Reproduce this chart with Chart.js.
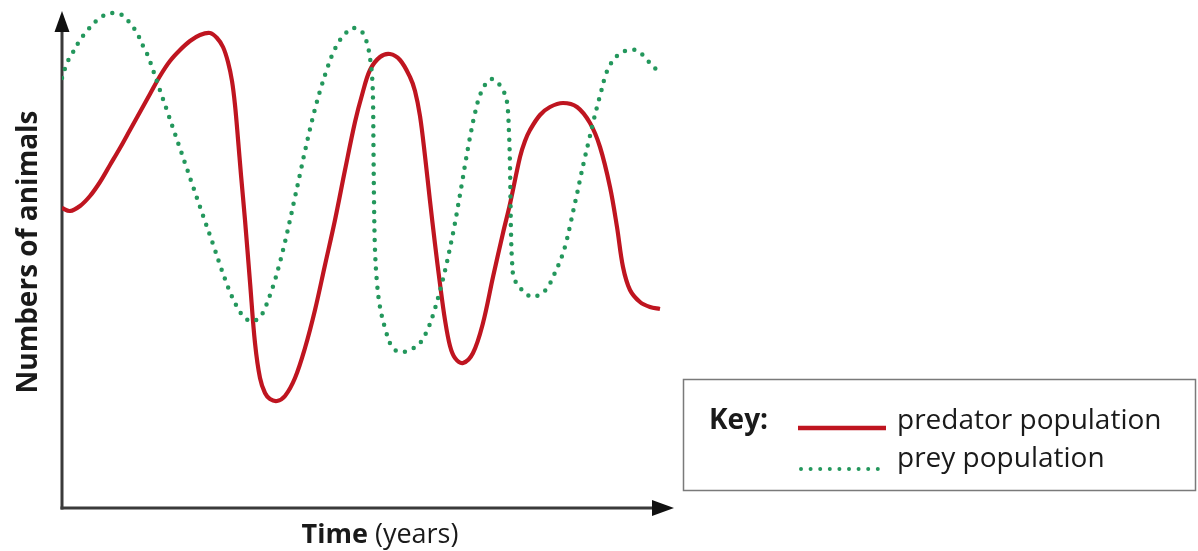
<!DOCTYPE html>
<html><head><meta charset="utf-8">
<script src="https://cdn.jsdelivr.net/npm/chart.js@4.4.1/dist/chart.umd.min.js"></script>
<style>html,body{margin:0;padding:0;background:#fff;}#wrap{width:1198px;height:551px;position:relative;}</style>
</head><body><div id="wrap"><canvas id="c" width="1198" height="551"></canvas></div>
<script>
// Time (arbitrary years 0..60) and numbers of animals (relative 0..100)
const predatorTime  = [0, 0.8, 1.8, 2.8, 3.8, 4.8, 5.8, 6.8, 7.8, 8.8, 9.8, 10.8, 11.8, 12.8, 13.8, 14.8, 15.5, 16.1, 16.6, 17.0, 17.3, 17.6, 17.9, 18.3, 18.8, 19.3, 19.8, 20.3, 20.8, 21.5, 22.3, 23.3, 24.3, 25.3, 26.3, 27.3, 28.3, 29.3, 30.0, 30.8, 31.8, 32.8, 33.8, 34.8, 35.3, 35.8, 36.3, 36.8, 37.3, 37.8, 38.3, 38.8, 39.3, 40.1, 41.1, 42.1, 43.1, 44.1, 44.8, 45.8, 46.3, 46.8, 47.8, 48.8, 50.1, 51.5, 52.8, 53.8, 54.8, 55.5, 56.1, 56.8, 57.8, 58.8, 59.8];
const predatorCount = [60, 59.4, 60.4, 62.4, 65.2, 68.6, 72, 75.6, 79.2, 82.8, 86.4, 89.4, 91.6, 93.4, 94.6, 95, 94, 92.2, 89.2, 85.4, 80.6, 73.8, 66.6, 57.6, 45.2, 33, 26, 23, 21.8, 21.4, 22.4, 26, 32, 39.6, 48.6, 57.6, 67.6, 77.2, 82.6, 87.6, 90.2, 90.8, 89.6, 86.2, 83.4, 78.4, 70.4, 61.4, 52.8, 44.8, 37.6, 32.4, 30, 29, 31, 37, 46.2, 55, 60.8, 70.2, 73.4, 75.6, 78.6, 80.2, 81, 80.2, 77, 72.2, 64.2, 56.2, 48.2, 43.6, 41.2, 40.2, 39.8];
const preyTime  = [0, 0.5, 1.0, 1.8, 2.5, 3.3, 4.1, 5.0, 6.0, 6.8, 7.5, 8.1, 8.6, 9.1, 9.6, 10.1, 10.6, 11.3, 11.8, 12.4, 13.1, 13.6, 14.1, 14.8, 15.3, 15.8, 16.3, 16.8, 17.3, 17.8, 18.3, 19.0, 19.8, 20.3, 20.8, 21.3, 21.8, 22.3, 22.8, 23.3, 23.8, 24.3, 24.8, 25.3, 25.8, 26.5, 27.1, 27.8, 28.5, 29.1, 30.0, 30.5, 30.8, 31.0, 31.1, 31.15, 31.2, 31.3, 31.5, 31.8, 32.3, 33.0, 33.8, 34.8, 35.8, 36.5, 37.1, 37.6, 38.1, 38.5, 38.9, 39.3, 39.6, 40.0, 40.3, 40.6, 40.9, 41.3, 41.8, 42.5, 43.0, 43.5, 44.1, 44.5, 44.7, 44.8, 44.85, 44.9, 45.0, 45.2, 46.0, 47.0, 48.0, 48.6, 49.1, 49.6, 50.0, 50.4, 50.8, 51.1, 51.5, 51.9, 52.3, 52.7, 53.1, 53.5, 53.9, 54.3, 54.8, 55.6, 56.6, 57.6, 58.5, 59.3, 59.7];
const preyCount = [86, 89, 90.8, 93.6, 95.4, 97.2, 98.4, 99, 98.6, 97, 95, 92.4, 90.4, 87.6, 84.7, 81.8, 78.9, 74.8, 71.9, 68.4, 64.3, 61.4, 58.5, 54.5, 51.6, 48.6, 45.8, 43.2, 41, 39.2, 38, 37.3, 38.2, 40, 42.6, 45.6, 49.2, 53.2, 57.6, 62.2, 66.8, 71.4, 75.8, 79.8, 83.4, 87.8, 91, 93.6, 95.2, 96, 95.2, 93, 90, 86.6, 81.6, 71.6, 61.6, 51.6, 45, 40.2, 36, 32.2, 31.2, 31.6, 33, 35.4, 38.6, 42, 45.8, 49.2, 53, 57, 60.4, 65, 68.6, 72, 75.2, 79, 82.6, 85.2, 85.8, 85.2, 83.6, 81.2, 75, 68.2, 61.6, 55, 49.6, 46, 43.6, 42.2, 43, 44.2, 46.2, 48.4, 50.4, 53, 56.4, 59.2, 62.8, 66.6, 70.2, 73.6, 77, 80.2, 83.2, 86.2, 88.6, 90.6, 91.6, 91.4, 89.6, 88, 86.2];

const seriesNames = ['predator population', 'prey population'];
const yAxisTitle = 'Numbers of animals';
const xAxisTitleBold = 'Time';
const xAxisTitleRest = ' (years)';
const keyTitle = 'Key:';

const RED = '#bf1520';
const GREEN = '#23975c';
const AXIS = '#3a3a3a';
const FONT = '"Open Sans", Lato, sans-serif';

const toPoints = (xs, ys) => xs.map((x, i) => ({x: x, y: ys[i]}));

const decor = {
  id: 'decor',
  beforeDatasetsDraw(chart) {
    const ctx = chart.ctx;
    const xs = chart.scales.x, ys = chart.scales.y;
    const x0 = xs.getPixelForValue(0), y0 = ys.getPixelForValue(0);
    ctx.save();
    ctx.strokeStyle = AXIS; ctx.fillStyle = '#111'; ctx.lineWidth = 3;
    ctx.beginPath(); ctx.moveTo(x0, y0 + 1.5); ctx.lineTo(x0, 28); ctx.stroke();
    ctx.beginPath(); ctx.moveTo(x0, 11); ctx.lineTo(x0 - 7.5, 32); ctx.lineTo(x0 + 7.5, 32); ctx.closePath(); ctx.fill();
    ctx.beginPath(); ctx.moveTo(x0 - 1.5, y0); ctx.lineTo(656, y0); ctx.stroke();
    ctx.beginPath(); ctx.moveTo(674, y0); ctx.lineTo(652, y0 - 8); ctx.lineTo(652, y0 + 8); ctx.closePath(); ctx.fill();
    ctx.restore();
  },
  afterDraw(chart) {
    const ctx = chart.ctx;
    ctx.save();
    ctx.fillStyle = '#1a1a1a';
    ctx.save();
    ctx.translate(37, 252);
    ctx.rotate(-Math.PI / 2);
    ctx.font = 'bold 28px ' + FONT;
    ctx.textAlign = 'center'; ctx.textBaseline = 'alphabetic';
    ctx.fillText(yAxisTitle, 0, 0);
    ctx.restore();
    ctx.font = 'bold 27px ' + FONT;
    const wb = ctx.measureText(xAxisTitleBold).width;
    ctx.font = '27px ' + FONT;
    const wr = ctx.measureText(xAxisTitleRest).width;
    let sx = 380 - (wb + wr) / 2;
    ctx.textBaseline = 'alphabetic'; ctx.textAlign = 'left';
    ctx.font = 'bold 27px ' + FONT; ctx.fillText(xAxisTitleBold, sx, 543);
    ctx.font = '27px ' + FONT; ctx.fillText(xAxisTitleRest, sx + wb, 543);
    ctx.strokeStyle = '#7a7a7a'; ctx.lineWidth = 1.5;
    ctx.strokeRect(683.5, 379.5, 512, 111);
    ctx.font = 'bold 28px ' + FONT; ctx.fillStyle = '#1a1a1a';
    ctx.fillText(keyTitle, 709, 429);
    ctx.font = '28px ' + FONT;
    ctx.fillText(seriesNames[0], 897, 429);
    ctx.fillText(seriesNames[1], 897, 467);
    ctx.strokeStyle = RED; ctx.lineWidth = 4.5; ctx.lineCap = 'butt';
    ctx.beginPath(); ctx.moveTo(798, 428); ctx.lineTo(886, 428); ctx.stroke();
    ctx.strokeStyle = GREEN; ctx.lineWidth = 4; ctx.lineCap = 'round';
    ctx.setLineDash([0, 9.6]);
    ctx.beginPath(); ctx.moveTo(801, 469); ctx.lineTo(886, 469); ctx.stroke();
    ctx.restore();
  }
};

new Chart(document.getElementById('c'), {
  type: 'line',
  data: {
    datasets: [
      {
        label: seriesNames[0],
        data: toPoints(predatorTime, predatorCount),
        borderColor: RED, borderWidth: 4.2, pointRadius: 0,
        tension: 0.35, fill: false, order: 2
      },
      {
        label: seriesNames[1],
        data: toPoints(preyTime, preyCount),
        borderColor: GREEN, borderWidth: 4.5, pointRadius: 0,
        borderDash: [0, 9.5], borderCapStyle: 'round',
        tension: 0.35, fill: false, order: 1
      }
    ]
  },
  options: {
    responsive: false, animation: false, devicePixelRatio: 1,
    layout: { padding: { left: 62, right: 536, top: 8, bottom: 43 } },
    plugins: { legend: { display: false }, tooltip: { enabled: false } },
    scales: {
      x: { type: 'linear', min: 0, max: 60, display: false },
      y: { type: 'linear', min: 0, max: 100, display: false }
    }
  },
  plugins: [decor]
});
</script></body></html>
